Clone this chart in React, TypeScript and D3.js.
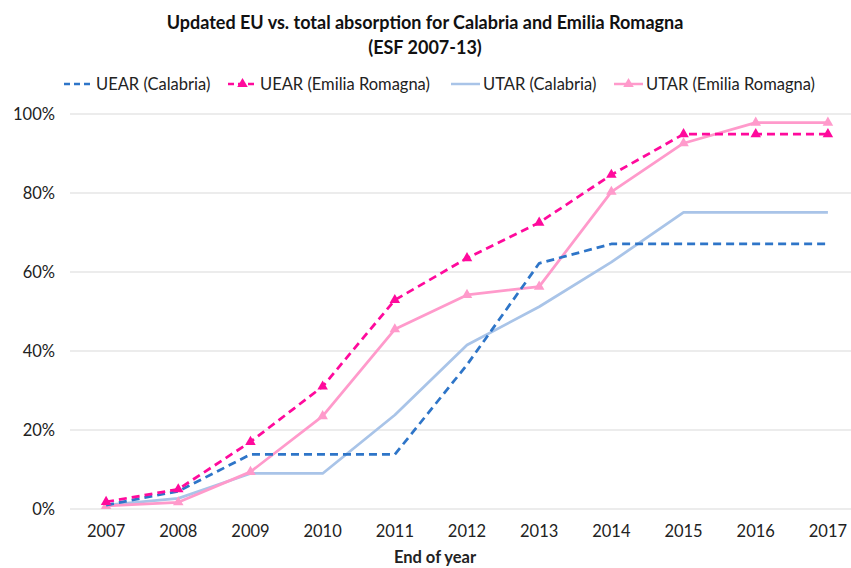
import React from "react";
import * as d3 from "d3";

const years = ["2007", "2008", "2009", "2010", "2011", "2012", "2013", "2014", "2015", "2016", "2017"];
const uearCalabria = [1.0, 4.5, 13.8, 13.8, 13.8, 36.5, 62.2, 67.1, 67.1, 67.1, 67.1];
const uearEmilia = [1.8, 5.0, 17.0, 31.0, 52.9, 63.5, 72.5, 84.6, 94.9, 94.9, 94.9];
const utarCalabria = [1.0, 2.7, 9.0, 9.0, 23.8, 41.5, 51.2, 62.5, 75.1, 75.1, 75.1];
const utarEmilia = [0.8, 1.7, 9.4, 23.5, 45.5, 54.2, 56.3, 80.3, 92.6, 97.8, 97.8];
const yTicks = [0, 20, 40, 60, 80, 100];

const seriesNames = ["UEAR (Calabria)", "UEAR (Emilia Romagna)", "UTAR (Calabria)", "UTAR (Emilia Romagna)"];
const seriesValues = [uearCalabria, uearEmilia, utarCalabria, utarEmilia];
const seriesColors = ["#2E75C8", "#FF0A9C", "#A9C4E8", "#FF9ACB"];
const seriesDashed = [true, true, false, false];
const seriesMarkers = [false, true, false, true];

const W = 851;
const H = 568;
const FONT = "Lato, 'Noto Sans', sans-serif";

export default function App() {
  const x = d3.scalePoint<string>().domain(years).range([70, 864]).padding(0.5);
  const y = d3.scaleLinear().domain([0, 100]).range([509, 114]);
  const line = d3
    .line<number>()
    .x((_, i) => x(years[i]) as number)
    .y((v) => y(v));
  const tri = d3.symbol().type(d3.symbolTriangle).size(48);

  const order = [2, 3, 0, 1];
  const legendX = [64, 228, 451, 614];

  return (
    <svg
      width={W}
      height={H}
      style={{ position: "absolute", left: 0, top: 0, display: "block", background: "#fff" }}
      fontFamily={FONT}
    >
      <rect x={0} y={0} width={W} height={H} fill="#fff" />
      <text x={425} y={29} textAnchor="middle" fontSize={18} fontWeight="bold" fill="#111">
        Updated EU vs. total absorption for Calabria and Emilia Romagna
      </text>
      <text x={425} y={54} textAnchor="middle" fontSize={18} fontWeight="bold" fill="#111">
        (ESF 2007-13)
      </text>

      {seriesNames.map((n, i) => (
        <g key={n} transform={`translate(${legendX[i]},84)`}>
          <line
            x1={0}
            x2={29}
            y1={0}
            y2={0}
            stroke={seriesColors[i]}
            strokeWidth={2.5}
            strokeDasharray={seriesDashed[i] ? "6,4" : undefined}
          />
          {seriesMarkers[i] && <path d={tri() as string} transform="translate(14.5,0)" fill={seriesColors[i]} />}
          <text x={32} y={6} fontSize={16.5} fill="#222">
            {n}
          </text>
        </g>
      ))}

      {yTicks.map((t) => (
        <g key={t}>
          <line x1={70} x2={851} y1={y(t)} y2={y(t)} stroke="#D9D9D9" strokeWidth={1} />
          <text x={55} y={y(t) + 6} textAnchor="end" fontSize={16.5} fill="#222">
            {t}%
          </text>
        </g>
      ))}

      {years.map((yr) => (
        <text key={yr} x={x(yr)} y={537} textAnchor="middle" fontSize={16.5} fill="#222">
          {yr}
        </text>
      ))}
      <text x={435} y={563} textAnchor="middle" fontSize={16.5} fontWeight="bold" fill="#222">
        End of year
      </text>

      {order.map((i) => (
        <g key={i}>
          <path
            d={line(seriesValues[i]) as string}
            fill="none"
            stroke={seriesColors[i]}
            strokeWidth={2.75}
            strokeDasharray={seriesDashed[i] ? "8,5" : undefined}
            strokeLinejoin="round"
          />
          {seriesMarkers[i] &&
            seriesValues[i].map((v, j) => (
              <path
                key={j}
                d={tri() as string}
                transform={`translate(${x(years[j])},${y(v)})`}
                fill={seriesColors[i]}
              />
            ))}
        </g>
      ))}
    </svg>
  );
}
